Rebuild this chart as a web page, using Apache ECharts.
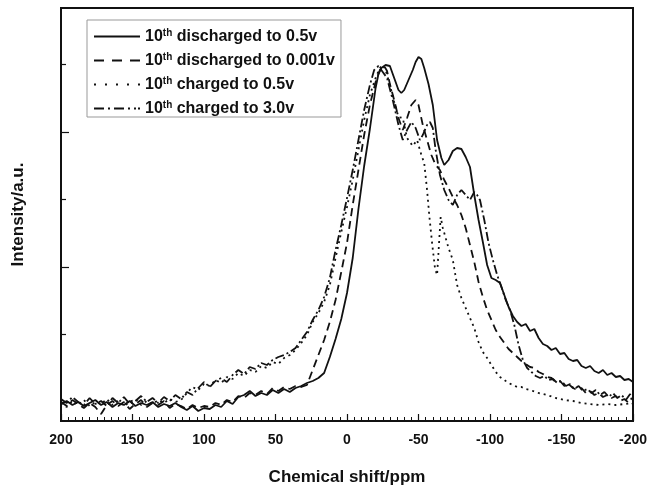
<!DOCTYPE html>
<html>
<head>
<meta charset="utf-8">
<script src="https://cdn.jsdelivr.net/npm/echarts@6/dist/echarts.min.js"></script>
<style>html,body{margin:0;padding:0;background:#fff}#c{width:652px;height:491px}</style>
</head>
<body>
<div id="c"></div>
<script>
// Chemical shift (ppm) / intensity (a.u.) pairs
const seriesNames = ['10th discharged to 0.5v', '10th discharged to 0.001v', '10th charged to 0.5v', '10th charged to 3.0v'];

const discharged05 = [[200,1.7],[196,2.0],[192,1.6],[188,1.9],[184,1.5],[180,1.8],[176,2.1],[172,1.6],[168,1.9],[164,1.4],[160,1.8],[156,1.6],[152,2.0],[148,1.5],[144,1.8],[140,1.6],[136,1.9],[132,1.4],[128,1.7],[124,1.5],[120,1.8],[116,1.4],[112,1.1],[108,1.5],[104,1.0],[100,1.3],[96,1.2],[92,1.6],[88,1.4],[84,2.0],[80,1.7],[76,2.4],[72,2.6],[68,3.0],[64,2.5],[60,2.8],[56,2.6],[52,3.1],[48,2.8],[44,3.2],[40,2.9],[36,3.3],[32,3.5],[28,3.8],[24,4.0],[20,4.3],[16,4.8],[12,6.4],[8,8.2],[4,10.2],[0,12.8],[-4,16.3],[-8,21.2],[-12,25.5],[-16,29.2],[-20,33.3],[-22,34.7],[-24,35.3],[-27,35.6],[-30,35.5],[-33,34.3],[-36,33.1],[-38,32.8],[-40,33.1],[-43,34.1],[-46,35.1],[-48,35.9],[-50,36.4],[-52,36.2],[-54,35.3],[-57,33.7],[-60,31.6],[-63,28.1],[-66,26.3],[-68,25.6],[-71,26.1],[-74,27.0],[-77,27.3],[-80,27.2],[-83,26.4],[-86,25.4],[-89,22.6],[-92,20.1],[-95,17.9],[-98,15.6],[-101,14.3],[-104,14.1],[-107,13.8],[-110,12.6],[-113,11.4],[-116,10.5],[-119,9.9],[-122,9.5],[-125,9.7],[-128,9.0],[-131,9.2],[-134,8.3],[-137,7.7],[-140,7.5],[-143,7.1],[-146,7.3],[-149,6.7],[-152,6.8],[-155,6.2],[-158,6.0],[-161,6.1],[-164,5.5],[-167,5.3],[-170,5.5],[-173,5.0],[-176,4.8],[-179,5.1],[-182,4.6],[-185,4.8],[-188,4.4],[-191,4.5],[-194,4.1],[-197,4.2],[-200,3.9]];

const discharged0001 = [[200,1.9],[196,1.5],[192,2.1],[188,1.7],[184,1.3],[180,1.8],[176,1.4],[172,0.7],[168,1.6],[164,2.0],[160,1.5],[156,1.9],[152,1.2],[148,1.7],[144,2.1],[140,1.4],[136,1.8],[132,1.6],[128,2.0],[124,1.3],[120,1.7],[116,1.5],[112,1.2],[108,1.6],[104,1.3],[100,1.5],[96,1.4],[92,1.8],[88,1.6],[84,2.1],[80,1.9],[76,2.5],[72,2.3],[68,2.8],[64,2.6],[60,3.0],[56,2.7],[52,3.3],[48,3.0],[44,3.4],[40,3.2],[36,3.5],[32,3.4],[28,3.6],[24,5.1],[20,6.6],[16,8.1],[12,9.9],[8,12.1],[4,14.9],[0,17.8],[-4,21.6],[-8,25.1],[-12,28.6],[-16,31.6],[-20,33.9],[-23,35.1],[-26,35.5],[-28,35.0],[-30,33.7],[-33,32.1],[-36,30.3],[-39,29.1],[-42,30.3],[-45,31.6],[-48,32.1],[-50,31.6],[-53,29.6],[-56,28.1],[-59,26.6],[-62,25.6],[-65,25.1],[-68,24.1],[-71,23.3],[-74,22.4],[-77,21.6],[-80,20.6],[-83,19.3],[-86,17.6],[-89,15.9],[-92,13.9],[-95,12.4],[-98,11.1],[-101,10.1],[-104,9.1],[-107,8.4],[-110,7.8],[-113,7.2],[-116,6.8],[-119,6.4],[-122,6.0],[-125,5.7],[-128,5.4],[-131,5.3],[-134,4.9],[-137,4.7],[-140,4.4],[-143,4.3],[-146,3.9],[-149,4.0],[-152,3.5],[-155,3.7],[-158,3.3],[-161,3.1],[-164,3.3],[-167,2.8],[-170,3.0],[-173,2.6],[-176,2.8],[-179,2.4],[-182,2.6],[-185,2.3],[-188,2.5],[-191,2.0],[-194,2.2],[-197,1.8],[-200,2.0]];

const charged05 = [[200,1.8],[196,1.4],[192,2.0],[188,1.6],[184,2.1],[180,1.5],[176,1.9],[172,1.7],[168,2.2],[164,1.6],[160,2.0],[156,1.5],[152,1.9],[148,2.2],[144,1.6],[140,2.0],[136,1.7],[132,2.1],[128,1.8],[124,2.2],[120,1.9],[116,2.1],[112,2.8],[108,3.4],[104,3.1],[100,3.7],[96,3.5],[92,4.1],[88,3.8],[84,4.4],[80,4.2],[76,4.8],[72,4.5],[68,5.1],[64,4.9],[60,5.5],[56,5.3],[52,5.9],[48,5.7],[44,6.3],[40,6.6],[36,7.1],[32,7.8],[28,8.6],[24,9.9],[20,10.8],[16,11.9],[12,13.6],[8,16.3],[4,18.9],[0,21.4],[-4,24.1],[-8,27.1],[-12,30.1],[-16,32.6],[-20,34.3],[-23,35.3],[-25,35.6],[-27,35.1],[-30,33.6],[-33,31.9],[-36,30.4],[-39,30.3],[-42,28.3],[-46,27.5],[-49,28.1],[-52,26.6],[-54,25.8],[-56,23.1],[-57.5,20.6],[-59.5,17.8],[-61.5,15.3],[-63,14.6],[-64.5,18.1],[-65.5,20.4],[-67,19.3],[-71,17.3],[-74,16.1],[-77,13.6],[-80,12.3],[-83,11.3],[-86,10.3],[-89,9.3],[-92,7.9],[-95,6.9],[-98,6.3],[-101,5.6],[-104,4.9],[-107,4.4],[-110,4.1],[-113,3.8],[-116,3.6],[-119,3.4],[-122,3.4],[-125,3.2],[-128,3.1],[-134,2.8],[-140,2.6],[-146,2.3],[-152,2.1],[-158,2.0],[-164,1.8],[-170,1.7],[-176,1.6],[-182,1.7],[-188,1.6],[-194,1.7],[-200,1.8]];

const charged30 = [[200,2.2],[196,1.8],[192,2.4],[188,1.9],[184,1.6],[180,2.3],[176,1.7],[172,2.0],[168,1.5],[164,2.3],[160,1.8],[156,2.4],[152,1.7],[148,2.0],[144,2.5],[140,1.9],[136,2.3],[132,1.8],[128,2.4],[124,2.0],[120,2.6],[116,2.2],[112,2.9],[108,2.6],[104,3.3],[100,3.9],[96,3.4],[92,4.0],[88,4.3],[84,3.9],[80,4.6],[76,5.1],[72,4.7],[68,5.4],[64,5.2],[60,5.8],[56,5.6],[52,6.1],[48,6.4],[44,6.6],[40,6.9],[36,7.3],[32,8.1],[28,8.9],[24,10.1],[20,11.1],[16,12.4],[12,14.3],[8,17.1],[4,19.6],[0,22.3],[-4,25.1],[-8,28.1],[-12,31.1],[-16,33.6],[-19,35.1],[-22,35.5],[-25,34.9],[-28,34.3],[-32,32.1],[-36,29.6],[-39,28.1],[-42,29.1],[-45,29.9],[-48,29.3],[-51,28.1],[-53,28.6],[-56,29.6],[-58,29.9],[-60,29.3],[-62,27.1],[-65,24.6],[-68,23.1],[-71,22.1],[-74,21.6],[-77,22.6],[-80,23.1],[-83,22.6],[-86,22.1],[-89,22.9],[-91,22.6],[-93,22.1],[-96,20.1],[-99,17.8],[-102,16.1],[-105,14.6],[-108,13.4],[-111,12.1],[-114,11.1],[-117,9.6],[-120,7.6],[-123,6.1],[-126,5.3],[-129,4.9],[-132,4.5],[-135,4.3],[-138,4.5],[-141,4.1],[-144,4.2],[-147,3.8],[-150,4.0],[-153,3.5],[-156,3.7],[-159,3.2],[-162,3.5],[-165,3.0],[-168,3.2],[-171,2.8],[-174,3.1],[-177,2.6],[-180,2.9],[-183,2.4],[-186,2.8],[-189,2.3],[-192,2.6],[-195,2.1],[-198,2.7],[-200,1.6]];

const xTickLabels = [200, 150, 100, 50, 0, -50, -100, -150, -200];
const yMajorTicks = [1.9, 15.4, 28.9];
const yMinorTicks = [8.65, 22.15, 35.65];

const FONT = '"Liberation Sans", Arial, Helvetica, sans-serif';
const INK = '#111';

const dashTypes = ['solid', [8, 5], [2, 4], [9, 3, 2, 3]];
const legendIcons = [
  'path://M0,0H46V2H0Z',
  'path://M0,0H10V2H0Z M18,0H28V2H18Z M36,0H46V2H36Z',
  'path://M0,0H2V2H0Z M11,0H13V2H11Z M22,0H24V2H22Z M33,0H35V2H33Z M44,0H46V2H44Z',
  'path://M0,0H10V2H0Z M14,0H16V2H14Z M20,0H30V2H20Z M34,0H36V2H34Z M40,0H42V2H40Z M44,0H46V2H44Z'
];
const allData = [discharged05, discharged0001, charged05, charged30];

const chart = echarts.init(document.getElementById('c'), null, {renderer: 'canvas'});
chart.setOption({
  animation: false,
  backgroundColor: '#fff',
  grid: {left: 61, right: 19, top: 8, bottom: 70, show: true, borderColor: INK, borderWidth: 2, backgroundColor: 'transparent'},
  legend: {
    orient: 'vertical', left: 87, top: 20,
    padding: [8, 6, 0, 7], itemGap: 7,
    itemWidth: 46, itemHeight: 2,
    borderColor: '#999', borderWidth: 1, backgroundColor: '#fff',
    itemStyle: {borderWidth: 0, color: INK},
    selectedMode: false,
    data: seriesNames.map((n, i) => ({name: n, icon: legendIcons[i]})),
    formatter: function (name) {
      return '{n|10}{s|th}{n|' + name.slice(4) + '}';
    },
    textStyle: {
      rich: {
        n: {fontFamily: FONT, fontWeight: 'bold', fontSize: 16, color: INK, lineHeight: 17},
        s: {fontFamily: FONT, fontWeight: 'bold', fontSize: 10, color: INK, lineHeight: 17, verticalAlign: 'top', padding: [0, 0, 7, 0]}
      }
    }
  },
  xAxis: {
    type: 'value', min: -200, max: 200, interval: 50, inverse: true,
    axisLine: {show: true, onZero: false, lineStyle: {color: INK, width: 2}},
    axisTick: {show: true, inside: true, length: 7, lineStyle: {color: INK, width: 1.2}},
    minorTick: {show: true, splitNumber: 10, length: 4, lineStyle: {color: INK, width: 1}},
    splitLine: {show: false},
    axisLabel: {
      color: INK, fontFamily: FONT, fontWeight: 'bold', fontSize: 14, margin: 12,
      customValues: xTickLabels
    },
    name: 'Chemical shift/ppm', nameLocation: 'middle', nameGap: 48,
    nameTextStyle: {color: INK, fontFamily: FONT, fontWeight: 'bold', fontSize: 17}
  },
  yAxis: [{
    type: 'value', min: 0, max: 41.3,
    axisLine: {show: true, onZero: false, lineStyle: {color: INK, width: 2}},
    axisTick: {show: true, inside: true, length: 8, customValues: yMajorTicks, lineStyle: {color: INK, width: 1.2}},
    axisLabel: {show: false},
    splitLine: {show: false},
    name: 'Intensity/a.u.', nameLocation: 'middle', nameGap: 34, nameRotate: 90,
    nameTextStyle: {color: INK, fontFamily: FONT, fontWeight: 'bold', fontSize: 17}
  }, {
    type: 'value', min: 0, max: 41.3, position: 'left', offset: 0,
    axisLine: {show: false, onZero: false},
    axisTick: {show: true, inside: true, length: 5, customValues: yMinorTicks, lineStyle: {color: INK, width: 1.2}},
    axisLabel: {show: false},
    splitLine: {show: false}
  }],
  series: seriesNames.map((n, i) => ({
    name: n, type: 'line', data: allData[i], showSymbol: false, symbol: 'none',
    color: INK,
    lineStyle: {color: INK, width: 1.8, type: dashTypes[i]},
    z: 2 + i
  }))
});
</script>
</body>
</html>
